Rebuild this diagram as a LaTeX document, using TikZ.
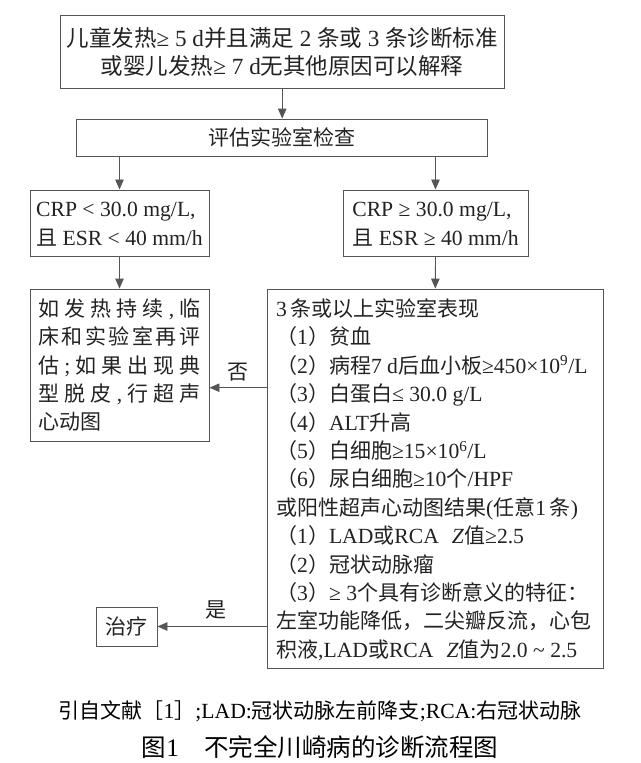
\documentclass[tikz,border=0pt]{standalone}
\usepackage{fontspec}
\setmainfont{Liberation Serif}[Scale=1.03]
\newfontfamily\cjk{Noto Sans CJK SC}
\usetikzlibrary{arrows.meta}
% automatic switch to the CJK font for CJK characters
\XeTeXinterchartokenstate=1
\newXeTeXintercharclass\CJKcls
\newcount\cjkcnt
\def\setcjkrange#1#2{\cjkcnt=#1\relax
  \loop \XeTeXcharclass\cjkcnt=\CJKcls\relax
  \ifnum\cjkcnt<#2\relax \advance\cjkcnt by 1 \repeat}
\setcjkrange{"4E00}{"9FFF}
\setcjkrange{"3000}{"303F}
\setcjkrange{"FF00}{"FFEF}
\XeTeXinterchartoks 0 \CJKcls = {\begingroup\cjk}
\XeTeXinterchartoks 4095 \CJKcls = {\begingroup\cjk}
\XeTeXinterchartoks \CJKcls 0 = {\endgroup}
\XeTeXinterchartoks \CJKcls 4095 = {\endgroup}
\definecolor{lin}{HTML}{555555}
\definecolor{ink}{HTML}{222222}
\begin{document}
\begin{tikzpicture}[x=1pt,y=-1pt,
  box/.style={draw=lin, line width=0.9pt, inner sep=0pt, text=ink,
    font=\fontsize{21}{28.4}\selectfont},
  lbl/.style={inner sep=0pt, text=ink, font=\fontsize{21}{28.4}\selectfont},
  arr/.style={draw=lin, line width=0.9pt, -{Triangle[length=10pt,width=8.5pt]}}]
\useasboundingbox (0,0) rectangle (640,763);
% boxes
\node[box, minimum width=444pt, minimum height=72.6pt, align=center, font=\fontsize{22.5}{28.4}\selectfont] (top) at (282.2,51.9)
  {儿童发热≥ 5 d并且满足 2 条或 3 条诊断标准\\或婴儿发热≥ 7 d无其他原因可以解释};
\node[box, minimum width=411pt, minimum height=37.7pt] (eval) at (281.5,137.9) {评估实验室检查};
\node[box, minimum width=179pt, minimum height=66.7pt, align=left] (crpL) at (119.5,223.3)
  {\vphantom{且}CRP < 30.0 mg/L,\\且 ESR < 40 mm/h};
\node[box, minimum width=185pt, minimum height=66.7pt, align=left] (crpR) at (435.5,223.3)
  {\vphantom{且}CRP ≥ 30.0 mg/L,\\且 ESR ≥ 40 mm/h};
\node[box, minimum width=179pt, minimum height=152pt, text width=162pt, inner xsep=8.5pt, align=left] (lbox) at (119.5,365)
  {\makebox[162pt][s]{如\hfill 发\hfill 热\hfill 持\hfill 续\hfill ,\hfill 临}\\
   \makebox[162pt][s]{床\hfill 和\hfill 实\hfill 验\hfill 室\hfill 再\hfill 评}\\
   \makebox[162pt][s]{估\hfill ;\hfill 如\hfill 果\hfill 出\hfill 现\hfill 典}\\
   \makebox[162pt][s]{型\hfill 脱\hfill 皮\hfill ,\hfill 行\hfill 超\hfill 声}\\
   心动图};
\node[box, minimum width=336pt, minimum height=379pt] (big) at (435.3,478.5) {};
\node[lbl, align=left, anchor=north west] (bigtxt) at (276,298.5)
  {3\,条或以上实验室表现\\
   （1）贫血\\
   （2）病程7 d后血小板≥450×10\textsuperscript{9}/L\\
   （3）白蛋白≤ 30.0 g/L\\
   （4）ALT升高\\
   （5）白细胞≥15×10\textsuperscript{6}/L\\
   （6）尿白细胞≥10个/HPF\\
   或阳性超声心动图结果(任意1\,条)\\
   （1）LAD或RCA\hspace{0.6em}\textit{Z}值≥2.5\\
   （2）冠状动脉瘤\\
   （3）≥ 3个具有诊断意义的特征：\\
   左室功能降低，二尖瓣反流，心包\\
   积液,LAD或RCA\hspace{0.6em}\textit{Z}值为2.0 \textasciitilde{} 2.5};
\node[box, minimum width=61pt, minimum height=39pt] (treat) at (126.5,626.5) {治疗};
% connectors
\coordinate (noY) at (240,387.7);
\draw[arr] (top.south) -- (top.south |- eval.north);
\draw[arr] (eval.south -| crpL.north) -- (crpL.north);
\draw[arr] (eval.south -| crpR.north) -- (crpR.north);
\draw[arr] (crpL.south) -- (lbox.north);
\draw[arr] (crpR.south) -- (big.north);
\draw[arr] (big.west |- noY) -- (lbox.east |- noY);
\draw[arr] (big.west |- treat.east) -- (treat.east);
\node[lbl] (no) at (238,372) {否};
\node[lbl] (yes) at (216,610) {是};
% captions
\node[lbl, text=black] (cap1) at (320,711) {引自文献［1］;LAD:冠状动脉左前降支;RCA:右冠状动脉};
\node[lbl, text=black, font=\fontsize{24.5}{28}\selectfont] (cap2) at (320,747) {图1\hspace{1em}不完全川崎病的诊断流程图};
\end{tikzpicture}
\end{document}
